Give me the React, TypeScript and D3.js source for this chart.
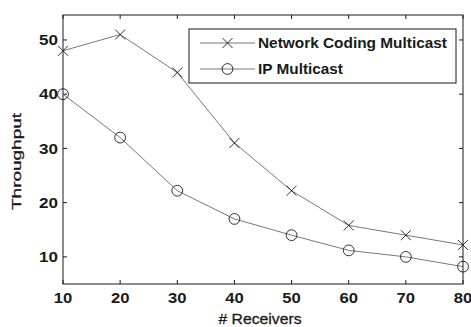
import React, { useEffect, useRef } from "react";
import * as d3 from "d3";

const receivers = [10, 20, 30, 40, 50, 60, 70, 80];
const ncMulticast = [48, 51, 44, 31, 22.2, 15.8, 14, 12.2];
const ipMulticast = [40, 32, 22.2, 17, 14, 11.2, 10, 8.2];
const yTicks = [10, 20, 30, 40, 50];
const seriesNames = ["Network Coding Multicast", "IP Multicast"];

function App() {
  const ref = useRef<SVGSVGElement>(null);

  useEffect(() => {
    const W = 471, H = 327;
    const margin = { top: 15, right: 8, bottom: 43, left: 63 };
    const width = W - margin.left - margin.right;
    const height = H - margin.top - margin.bottom;
    const font = "Arial, 'Liberation Sans', sans-serif";
    const ink = "#1a1a1a";

    const svg = d3.select(ref.current);
    svg.selectAll("*").remove();
    svg.append("rect").attr("width", W).attr("height", H).attr("fill", "#fff");

    const g = svg.append("g").attr("transform", `translate(${margin.left},${margin.top})`);

    const x = d3.scaleLinear().domain([10, 80]).range([0, width]);
    const y = d3.scaleLinear().domain([5, 54.6]).range([height, 0]);

    // box
    g.append("rect")
      .attr("width", width).attr("height", height)
      .attr("fill", "none").attr("stroke", ink).attr("stroke-width", 1);

    // ticks inward, on all four sides (matlab style)
    const tk = 4;
    receivers.forEach(v => {
      g.append("line").attr("x1", x(v)).attr("x2", x(v)).attr("y1", height).attr("y2", height - tk).attr("stroke", ink);
      g.append("line").attr("x1", x(v)).attr("x2", x(v)).attr("y1", 0).attr("y2", tk).attr("stroke", ink);
      g.append("text").attr("x", x(v)).attr("y", height + 19)
        .attr("text-anchor", "middle").style("font-family", font).style("font-size", "14.5px")
        .style("font-weight", "bold").attr("fill", ink)
        .attr("textLength", 18.5).attr("lengthAdjust", "spacingAndGlyphs").text(v);
    });
    yTicks.forEach(v => {
      g.append("line").attr("x1", 0).attr("x2", tk).attr("y1", y(v)).attr("y2", y(v)).attr("stroke", ink);
      g.append("line").attr("x1", width).attr("x2", width - tk).attr("y1", y(v)).attr("y2", y(v)).attr("stroke", ink);
      g.append("text").attr("x", -5).attr("y", y(v)).attr("dy", "0.36em")
        .attr("text-anchor", "end").style("font-family", font).style("font-size", "14.5px")
        .style("font-weight", "bold").attr("fill", ink)
        .attr("textLength", 19).attr("lengthAdjust", "spacingAndGlyphs").text(v);
    });

    // axis labels
    g.append("text").attr("x", width / 2 - 3).attr("y", height + 40)
      .attr("text-anchor", "middle").style("font-family", font).style("font-size", "15px")
      .attr("fill", ink).attr("stroke", ink).attr("stroke-width", 0.3)
      .attr("textLength", 83).attr("lengthAdjust", "spacingAndGlyphs").text("# Receivers");
    g.append("text").attr("transform", `translate(${21 - margin.left},${161.5 - margin.top}) rotate(-90)`)
      .attr("text-anchor", "middle").style("font-family", font).style("font-size", "13px")
      .attr("fill", ink).attr("stroke", ink).attr("stroke-width", 0.3)
      .attr("textLength", 97).attr("lengthAdjust", "spacingAndGlyphs").text("Throughput");

    const line = d3.line<number>().x((d, i) => x(receivers[i])).y(d => y(d));

    g.append("path").datum(ncMulticast).attr("d", line)
      .attr("fill", "none").attr("stroke", "#555").attr("stroke-width", 0.8);
    g.append("path").datum(ipMulticast).attr("d", line)
      .attr("fill", "none").attr("stroke", "#555").attr("stroke-width", 0.8);

    const cross = (sel: any, cx: number, cy: number, s: number) => {
      sel.append("path")
        .attr("d", `M${cx - s},${cy - s}L${cx + s},${cy + s}M${cx - s},${cy + s}L${cx + s},${cy - s}`)
        .attr("stroke", ink).attr("stroke-width", 0.9).attr("fill", "none");
    };

    ncMulticast.forEach((v, i) => cross(g, x(receivers[i]), y(v), 5));
    ipMulticast.forEach((v, i) => {
      g.append("circle").attr("cx", x(receivers[i])).attr("cy", y(v)).attr("r", 5.4)
        .attr("fill", "none").attr("stroke", ink).attr("stroke-width", 0.9);
    });

    // legend
    const lg = svg.append("g").attr("transform", "translate(189,29)");
    lg.append("rect").attr("width", 267).attr("height", 54)
      .attr("fill", "#fff").attr("stroke", ink).attr("stroke-width", 1);
    const labelW = [189, 85];
    seriesNames.forEach((name, i) => {
      const ly = 14 + i * 26;
      lg.append("line").attr("x1", 11).attr("x2", 66).attr("y1", ly).attr("y2", ly)
        .attr("stroke", "#555").attr("stroke-width", 0.8);
      if (i === 0) cross(lg, 38.5, ly, 5);
      else lg.append("circle").attr("cx", 38.5).attr("cy", ly).attr("r", 5.4)
        .attr("fill", "none").attr("stroke", ink).attr("stroke-width", 0.9);
      lg.append("text").attr("x", 69).attr("y", ly).attr("dy", "0.36em")
        .style("font-family", font).style("font-size", "15px").style("font-weight", "bold")
        .attr("fill", ink).attr("textLength", labelW[i]).attr("lengthAdjust", "spacingAndGlyphs")
        .text(name);
    });
  }, []);

  return (
    <svg ref={ref} width={471} height={327}
      style={{ position: "absolute", left: 0, top: 0, display: "block" }} />
  );
}

export default App;
